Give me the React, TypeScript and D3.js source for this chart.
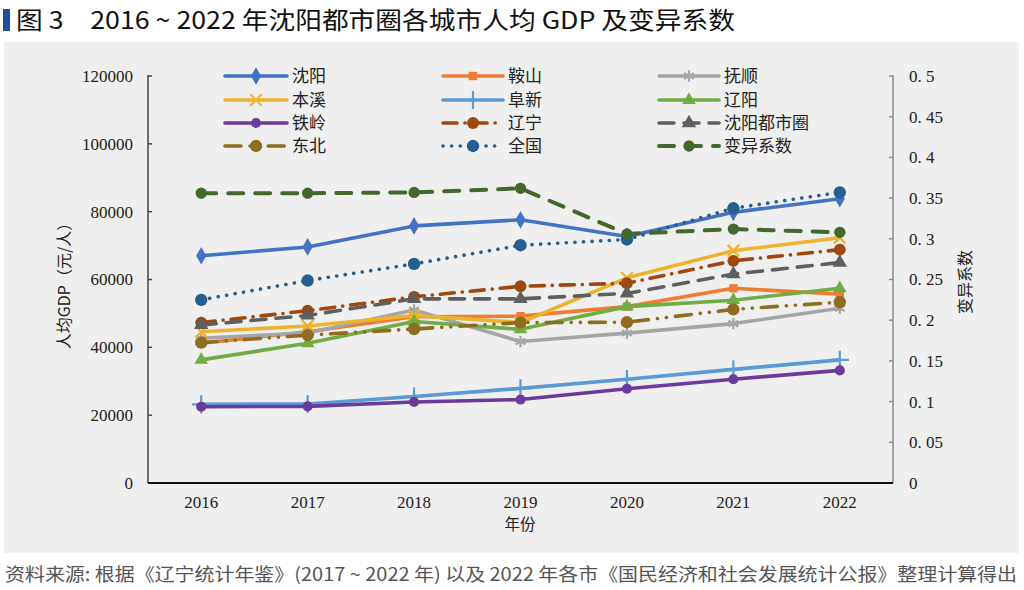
import React from 'react';
import * as d3 from 'd3';

const years = ['2016', '2017', '2018', '2019', '2020', '2021', '2022'];
const shenyang = [67000, 69600, 75800, 77600, 72700, 79800, 83800];
const anshan = [41200, 44600, 49000, 49200, 52000, 57400, 55700];
const fushun = [42700, 44200, 51000, 41700, 44200, 47000, 51500];
const benxi = [44600, 46300, 49400, 47300, 60500, 68500, 72300];
const fuxin = [23200, 23300, 25500, 27900, 30600, 33500, 36300];
const liaoyang = [36300, 41200, 47600, 45300, 52000, 53900, 57400];
const tieling = [22500, 22600, 23900, 24600, 27800, 30600, 33200];
const liaoning = [47300, 50800, 54900, 58000, 58900, 65500, 68800];
const shenyangCircle = [46600, 49400, 54300, 54300, 55900, 61600, 65000];
const dongbei = [41400, 43600, 45400, 47300, 47400, 51200, 53300];
const national = [54000, 59700, 64600, 70100, 71800, 81000, 85700];
const cv = [0.356, 0.356, 0.357, 0.362, 0.306, 0.312, 0.308];

const leftTicks = [0, 20000, 40000, 60000, 80000, 100000, 120000];
const rightTicks = [0, 0.05, 0.1, 0.15, 0.2, 0.25, 0.3, 0.35, 0.4, 0.45, 0.5];

type S = {
  name: string; values: number[]; color: string; dash?: string; sym: any; size: number;
  right?: boolean; stroke?: boolean; col: number; row: number; width?: number;
};

const series: S[] = [
  { name: '沈阳', values: shenyang, color: '#4472C4', sym: d3.symbolDiamond, size: 90, col: 0, row: 0 },
  { name: '鞍山', values: anshan, color: '#ED7D31', sym: d3.symbolSquare, size: 70, col: 1, row: 0 },
  { name: '抚顺', values: fushun, color: '#A5A5A5', sym: d3.symbolAsterisk, size: 90, stroke: true, col: 2, row: 0 },
  { name: '本溪', values: benxi, color: '#EEB32C', sym: d3.symbolX, size: 90, stroke: true, col: 0, row: 1 },
  { name: '阜新', values: fuxin, color: '#5B9BD5', sym: d3.symbolPlus, size: 110, stroke: true, col: 1, row: 1 },
  { name: '辽阳', values: liaoyang, color: '#70AD47', sym: d3.symbolTriangle, size: 80, col: 2, row: 1 },
  { name: '铁岭', values: tieling, color: '#6B3A9A', sym: d3.symbolCircle, size: 80, col: 0, row: 2 },
  { name: '辽宁', values: liaoning, color: '#9E480E', dash: '14,8,0.1,8', sym: d3.symbolCircle, size: 110, col: 1, row: 2 },
  { name: '沈阳都市圈', values: shenyangCircle, color: '#5F5F5F', dash: '15,10', sym: d3.symbolTriangle, size: 90, col: 2, row: 2 },
  { name: '东北', values: dongbei, color: '#8F6D1F', dash: '16,9,0.1,9,0.1,9', sym: d3.symbolCircle, size: 120, col: 0, row: 3 },
  { name: '全国', values: national, color: '#255E91', dash: '0.1,8.5', sym: d3.symbolCircle, size: 120, col: 1, row: 3 },
  { name: '变异系数', values: cv, color: '#43682B', dash: '15,12', sym: d3.symbolCircle, size: 100, right: true, col: 2, row: 3, width: 4 },
];

const W = 1024, H = 590;
const L = 148, R = 893, T = 76, B = 483;
const serif = '"Liberation Serif", "DejaVu Serif", "Noto Sans CJK SC", serif';
const cjk = '"Noto Sans CJK SC", "Liberation Serif", serif';

export default function App() {
  const xb = d3.scaleBand<string>().domain(years).range([L, R]);
  const x = (y: string) => (xb(y) as number) + xb.bandwidth() / 2;
  const yl = d3.scaleLinear().domain([0, 120000]).range([B, T]);
  const yr = d3.scaleLinear().domain([0, 0.5]).range([B, T]);
  const legX = [225, 443, 659];
  const legW = [62, 60, 60];
  const legY = [76, 100, 123, 146];

  const markerPath = (s: S) => d3.symbol(s.sym, s.size)() as string;
  const markerProps = (s: S) =>
    s.stroke
      ? { fill: 'none', stroke: s.color, strokeWidth: 2.2 }
      : { fill: s.color, stroke: 'none' };

  return (
    <svg width={W} height={H} style={{ position: 'absolute', left: 0, top: 0, background: '#fff' }}>
      <rect x={0} y={0} width={W} height={H} fill="#ffffff" />
      <rect x={3} y={9} width={7} height={22} fill="#1E4F9C" />
      <text x={16} y={29} fontFamily={cjk} fontSize={24} fill="#111" fontWeight={400}
        textLength={719} lengthAdjust="spacingAndGlyphs">
        图 3{'\u2003'}2016 ~ 2022 年沈阳都市圈各城市人均 GDP 及变异系数
      </text>
      <rect x={4} y={42} width={1015} height={511} fill="#EEEFEE" />

      {/* left axis */}
      <line x1={L} x2={L} y1={T - 1} y2={B} stroke="#444" strokeWidth={1.5} />
      {leftTicks.map((t) => (
        <g key={'l' + t}>
          <line x1={L} x2={L + 4} y1={yl(t)} y2={yl(t)} stroke="#444" strokeWidth={1.5} />
          <text x={133} y={yl(t)} dy="0.35em" textAnchor="end" fontFamily={serif} fontSize={17} fill="#222">{t}</text>
        </g>
      ))}
      {/* right axis */}
      <line x1={R} x2={R} y1={T - 1} y2={B} stroke="#8c8c8c" strokeWidth={1.5} />
      {rightTicks.map((t) => (
        <g key={'r' + t}>
          <line x1={R - 4} x2={R} y1={yr(t)} y2={yr(t)} stroke="#8c8c8c" strokeWidth={1.5} />
          <text x={909} y={yr(t)} dy="0.35em" textAnchor="start" fontFamily={serif} fontSize={17} fill="#222">
            {t === 0 ? '0' : String(t).replace('.', '. ')}
          </text>
        </g>
      ))}
      {/* bottom axis */}
      <line x1={L} x2={R} y1={B} y2={B} stroke="#111" strokeWidth={2} />
      {years.map((y) => (
        <text key={'x' + y} x={x(y)} y={502} dy="0.35em" textAnchor="middle" fontFamily={serif} fontSize={17} fill="#222">{y}</text>
      ))}
      <text x={520} y={525} dy="0.35em" textAnchor="middle" fontFamily={cjk} fontSize={15.5} fill="#222">年份</text>
      <text transform={`translate(64,282) rotate(-90)`} textAnchor="middle" dy="0.35em" fontFamily={cjk} fontSize={16} fill="#222">人均GDP（元/人）</text>
      <text transform={`translate(965,282) rotate(-90)`} textAnchor="middle" dy="0.35em" fontFamily={cjk} fontSize={16} fill="#222">变异系数</text>

      {/* series */}
      {series.map((s) => {
        const ys = s.right ? yr : yl;
        const line = d3.line<number>().x((_, i) => x(years[i])).y((v) => ys(v));
        return (
          <g key={s.name}>
            <path d={line(s.values) as string} fill="none" stroke={s.color} strokeWidth={s.width ?? 3.6}
              strokeDasharray={s.dash} strokeLinecap="round" strokeLinejoin="round" />
            {s.values.map((v, i) => (
              <path key={i} d={markerPath(s)} transform={`translate(${x(years[i])},${ys(v)})`} {...markerProps(s)} />
            ))}
          </g>
        );
      })}

      {/* legend */}
      {series.map((s) => {
        const lx = legX[s.col];
        const ly = legY[s.row];
        const w = legW[s.col];
        return (
          <g key={'lg' + s.name}>
            <line x1={lx} x2={lx + w} y1={ly} y2={ly} stroke={s.color} strokeWidth={s.width ?? 3.6}
              strokeDasharray={s.dash} strokeLinecap="round" />
            <path d={markerPath(s)} transform={`translate(${lx + w / 2},${ly})`} {...markerProps(s)} />
            <text x={lx + w + 5} y={ly} dy="0.36em" fontFamily={cjk} fontSize={17} fill="#222">{s.name}</text>
          </g>
        );
      })}

      <text x={5} y={581} fontFamily={cjk} fontSize={18} fill="#555" textLength={1012} lengthAdjust="spacingAndGlyphs">
        资料来源: 根据《辽宁统计年鉴》(2017 ~ 2022 年) 以及 2022 年各市《国民经济和社会发展统计公报》整理计算得出
      </text>
    </svg>
  );
}
